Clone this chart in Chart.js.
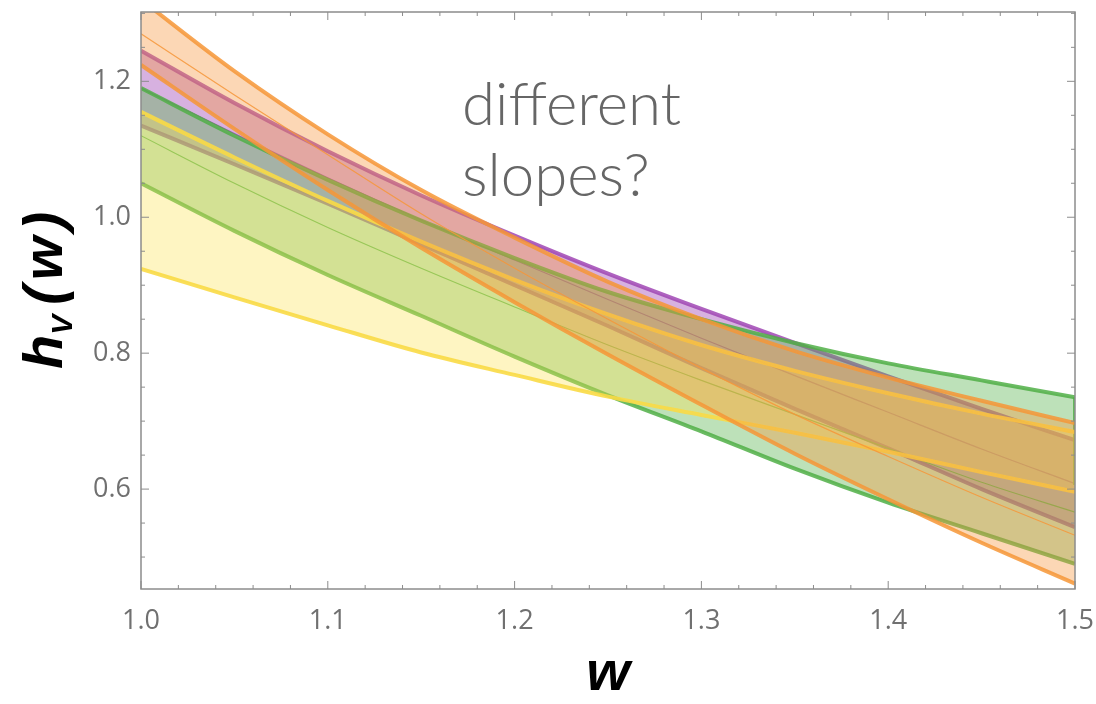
<!DOCTYPE html>
<html>
<head>
<meta charset="utf-8">
<script src="https://cdn.jsdelivr.net/npm/chart.js@4.4.1/dist/chart.umd.min.js"></script>
<style>
    html, body { margin: 0; padding: 0; background: #fff; }
    #wrap { width: 1096px; height: 704px; position: relative; }
</style>
</head>
<body>
<div id="wrap"><canvas id="chart" width="1096" height="704"></canvas></div>
<script>
// recoil values w and the form factor bands h_V(w)
const wValues = [1.0, 1.05, 1.1, 1.15, 1.2, 1.25, 1.3, 1.35, 1.4, 1.45, 1.5];

const orangeUpper   = [1.32, 1.215, 1.122, 1.04, 0.97, 0.905, 0.85, 0.803, 0.764, 0.73, 0.697];
const orangeCentral = [1.27, 1.18, 1.092, 1.005, 0.925, 0.85, 0.778, 0.71, 0.648, 0.588, 0.532];
const orangeLower   = [1.224, 1.13, 1.04, 0.955, 0.875, 0.798, 0.724, 0.652, 0.585, 0.521, 0.461];

const purpleUpper   = [1.245, 1.168, 1.097, 1.032, 0.973, 0.917, 0.865, 0.815, 0.766, 0.718, 0.672];
const purpleCentral = [1.19, 1.123, 1.058, 0.996, 0.937, 0.879, 0.822, 0.767, 0.713, 0.659, 0.608];
const purpleLower   = [1.135, 1.078, 1.02, 0.96, 0.90, 0.84, 0.778, 0.718, 0.66, 0.60, 0.544];

const greenUpper    = [1.19, 1.12, 1.055, 0.995, 0.94, 0.89, 0.85, 0.815, 0.785, 0.76, 0.735];
const greenCentral  = [1.12, 1.05, 0.985, 0.925, 0.868, 0.812, 0.76, 0.71, 0.66, 0.61, 0.566];
const greenLower    = [1.05, 0.98, 0.915, 0.855, 0.795, 0.738, 0.685, 0.63, 0.58, 0.535, 0.49];
// closing edge of the green band at w = 1.5
const greenEdgeW    = [1.5, 1.5];
const greenEdgeH    = [0.735, 0.606];

const yellowUpper   = [1.155, 1.088, 1.024, 0.964, 0.908, 0.857, 0.812, 0.774, 0.741, 0.711, 0.684];
const yellowLower   = [0.924, 0.882, 0.841, 0.801, 0.768, 0.736, 0.709, 0.683, 0.655, 0.625, 0.596];

const xTickMajor = 0.1;
const yTickMajor = 0.2;

const isMajor = (v, step) => Math.abs(v / step - Math.round(v / step)) < 1e-6;
const toPoints = (ys, xs = wValues) => ys.map((y, i) => ({ x: xs[i], y }));

const datasets = [];

function addBand(upper, lower, central, lineColor, fillColor, order) {
    const lowerIndex = datasets.length;
    datasets.push({ data: toPoints(lower), borderColor: lineColor, borderWidth: 4, fill: false, order });
    datasets.push({
        data: toPoints(upper), borderColor: lineColor, borderWidth: 4,
        fill: { target: lowerIndex }, backgroundColor: fillColor, order
    });
    if (central) {
        datasets.push({ data: toPoints(central), borderColor: lineColor, borderWidth: 1.2, fill: false, order });
    }
}

// higher order is drawn first (underneath)
addBand(purpleUpper, purpleLower, purpleCentral, 'rgba(160,70,180,0.85)', 'rgba(160,70,180,0.42)', 4);
addBand(greenUpper, greenLower, greenCentral, 'rgba(80,175,70,0.85)', 'rgba(90,180,80,0.40)', 3);
datasets.push({
    data: toPoints(greenEdgeH, greenEdgeW), borderColor: 'rgba(80,175,70,0.85)',
    borderWidth: 4, fill: false, order: 3
});
addBand(yellowUpper, yellowLower, null, 'rgba(250,218,70,0.9)', 'rgba(253,225,80,0.35)', 2);
addBand(orangeUpper, orangeLower, orangeCentral, 'rgba(246,150,55,0.85)', 'rgba(247,150,60,0.38)', 1);

datasets.forEach(d => { d.clip = 0; d.pointRadius = 0; });

const framePlugin = {
    id: 'frame',
    afterDatasetsDraw(chart) {
        const { ctx, chartArea: a, scales: { x, y } } = chart;
        const seg = (x1, y1, x2, y2) => {
            ctx.beginPath(); ctx.moveTo(x1, y1); ctx.lineTo(x2, y2); ctx.stroke();
        };
        ctx.save();
        ctx.strokeStyle = '#8c8c8c';
        ctx.lineWidth = 1.5;
        ctx.strokeRect(a.left, a.top, a.right - a.left, a.bottom - a.top);

        ctx.lineWidth = 1;
        x.ticks.forEach(t => {
            const px = x.getPixelForValue(t.value);
            const len = isMajor(t.value, xTickMajor) ? 8 : 4;
            seg(px, a.bottom, px, a.bottom - len);
            seg(px, a.top, px, a.top + len);
        });
        y.ticks.forEach(t => {
            const py = y.getPixelForValue(t.value);
            const len = isMajor(t.value, yTickMajor) ? 8 : 4;
            seg(a.left, py, a.left + len, py);
            seg(a.right, py, a.right - len, py);
        });

        // annotation
        ctx.fillStyle = '#666';
        ctx.font = '300 60px Lato, "Open Sans", sans-serif';
        ctx.textAlign = 'left';
        ctx.textBaseline = 'alphabetic';
        ctx.fillText('different', 462, 125);
        ctx.fillText('slopes?', 462, 196);

        // x-axis title
        ctx.fillStyle = '#000';
        ctx.font = 'bold italic 56px "Liberation Sans", Arial, sans-serif';
        ctx.textAlign = 'center';
        ctx.fillText('w', (a.left + a.right) / 2, 690);

        // y-axis title h_V (w), rotated
        const pieces = [
            { t: 'h', size: 56, dy: 0, gap: 0 },
            { t: 'V', size: 30, dy: 10, gap: 0 },
            { t: '(', size: 56, dy: 0, gap: 10 },
            { t: 'w', size: 56, dy: 0, gap: 6 },
            { t: ')', size: 56, dy: 0, gap: 6 }
        ];
        let total = 0;
        pieces.forEach(p => {
            ctx.font = `bold italic ${p.size}px "Liberation Sans", Arial, sans-serif`;
            p.w = ctx.measureText(p.t).width;
            total += p.gap + p.w;
        });
        ctx.translate(62, (a.top + a.bottom) / 2 - 10);
        ctx.rotate(-Math.PI / 2);
        ctx.textAlign = 'left';
        let cx = -total / 2;
        pieces.forEach(p => {
            cx += p.gap;
            ctx.font = `bold italic ${p.size}px "Liberation Sans", Arial, sans-serif`;
            ctx.fillText(p.t, cx, p.dy);
            cx += p.w;
        });
        ctx.restore();
    }
};

const tickFont = { family: '"Open Sans", "Liberation Sans", sans-serif', size: 27 };

new Chart(document.getElementById('chart'), {
    type: 'line',
    data: { datasets },
    options: {
        responsive: false,
        animation: false,
        layout: { padding: { top: 12, right: 21, left: 0, bottom: 0 } },
        plugins: { legend: { display: false }, tooltip: { enabled: false } },
        elements: {
            point: { radius: 0 },
            line: { cubicInterpolationMode: 'monotone', borderCapStyle: 'butt' }
        },
        scales: {
            x: {
                type: 'linear', min: 1.0, max: 1.5,
                grid: { display: false, drawTicks: false },
                border: { display: false },
                ticks: {
                    stepSize: 0.02, autoSkip: false, maxRotation: 0, padding: 16,
                    color: '#707070', font: tickFont,
                    callback: v => isMajor(v, xTickMajor) ? v.toFixed(1) : ''
                },
                afterFit: s => {
                    s.height = 115;
                    s.paddingLeft = 0;
                    s.paddingRight = 0;
                }
            },
            y: {
                type: 'linear', min: 0.453, max: 1.302,
                grid: { display: false, drawTicks: false },
                border: { display: false },
                ticks: {
                    stepSize: 0.05, includeBounds: false, autoSkip: false, padding: 10,
                    color: '#707070', font: tickFont,
                    callback: v => isMajor(v, yTickMajor) ? v.toFixed(1) : ''
                },
                afterFit: s => {
                    s.width = 141;
                    s.paddingTop = 0;
                    s.paddingBottom = 0;
                }
            }
        }
    },
    plugins: [framePlugin]
});
</script>
</body>
</html>
